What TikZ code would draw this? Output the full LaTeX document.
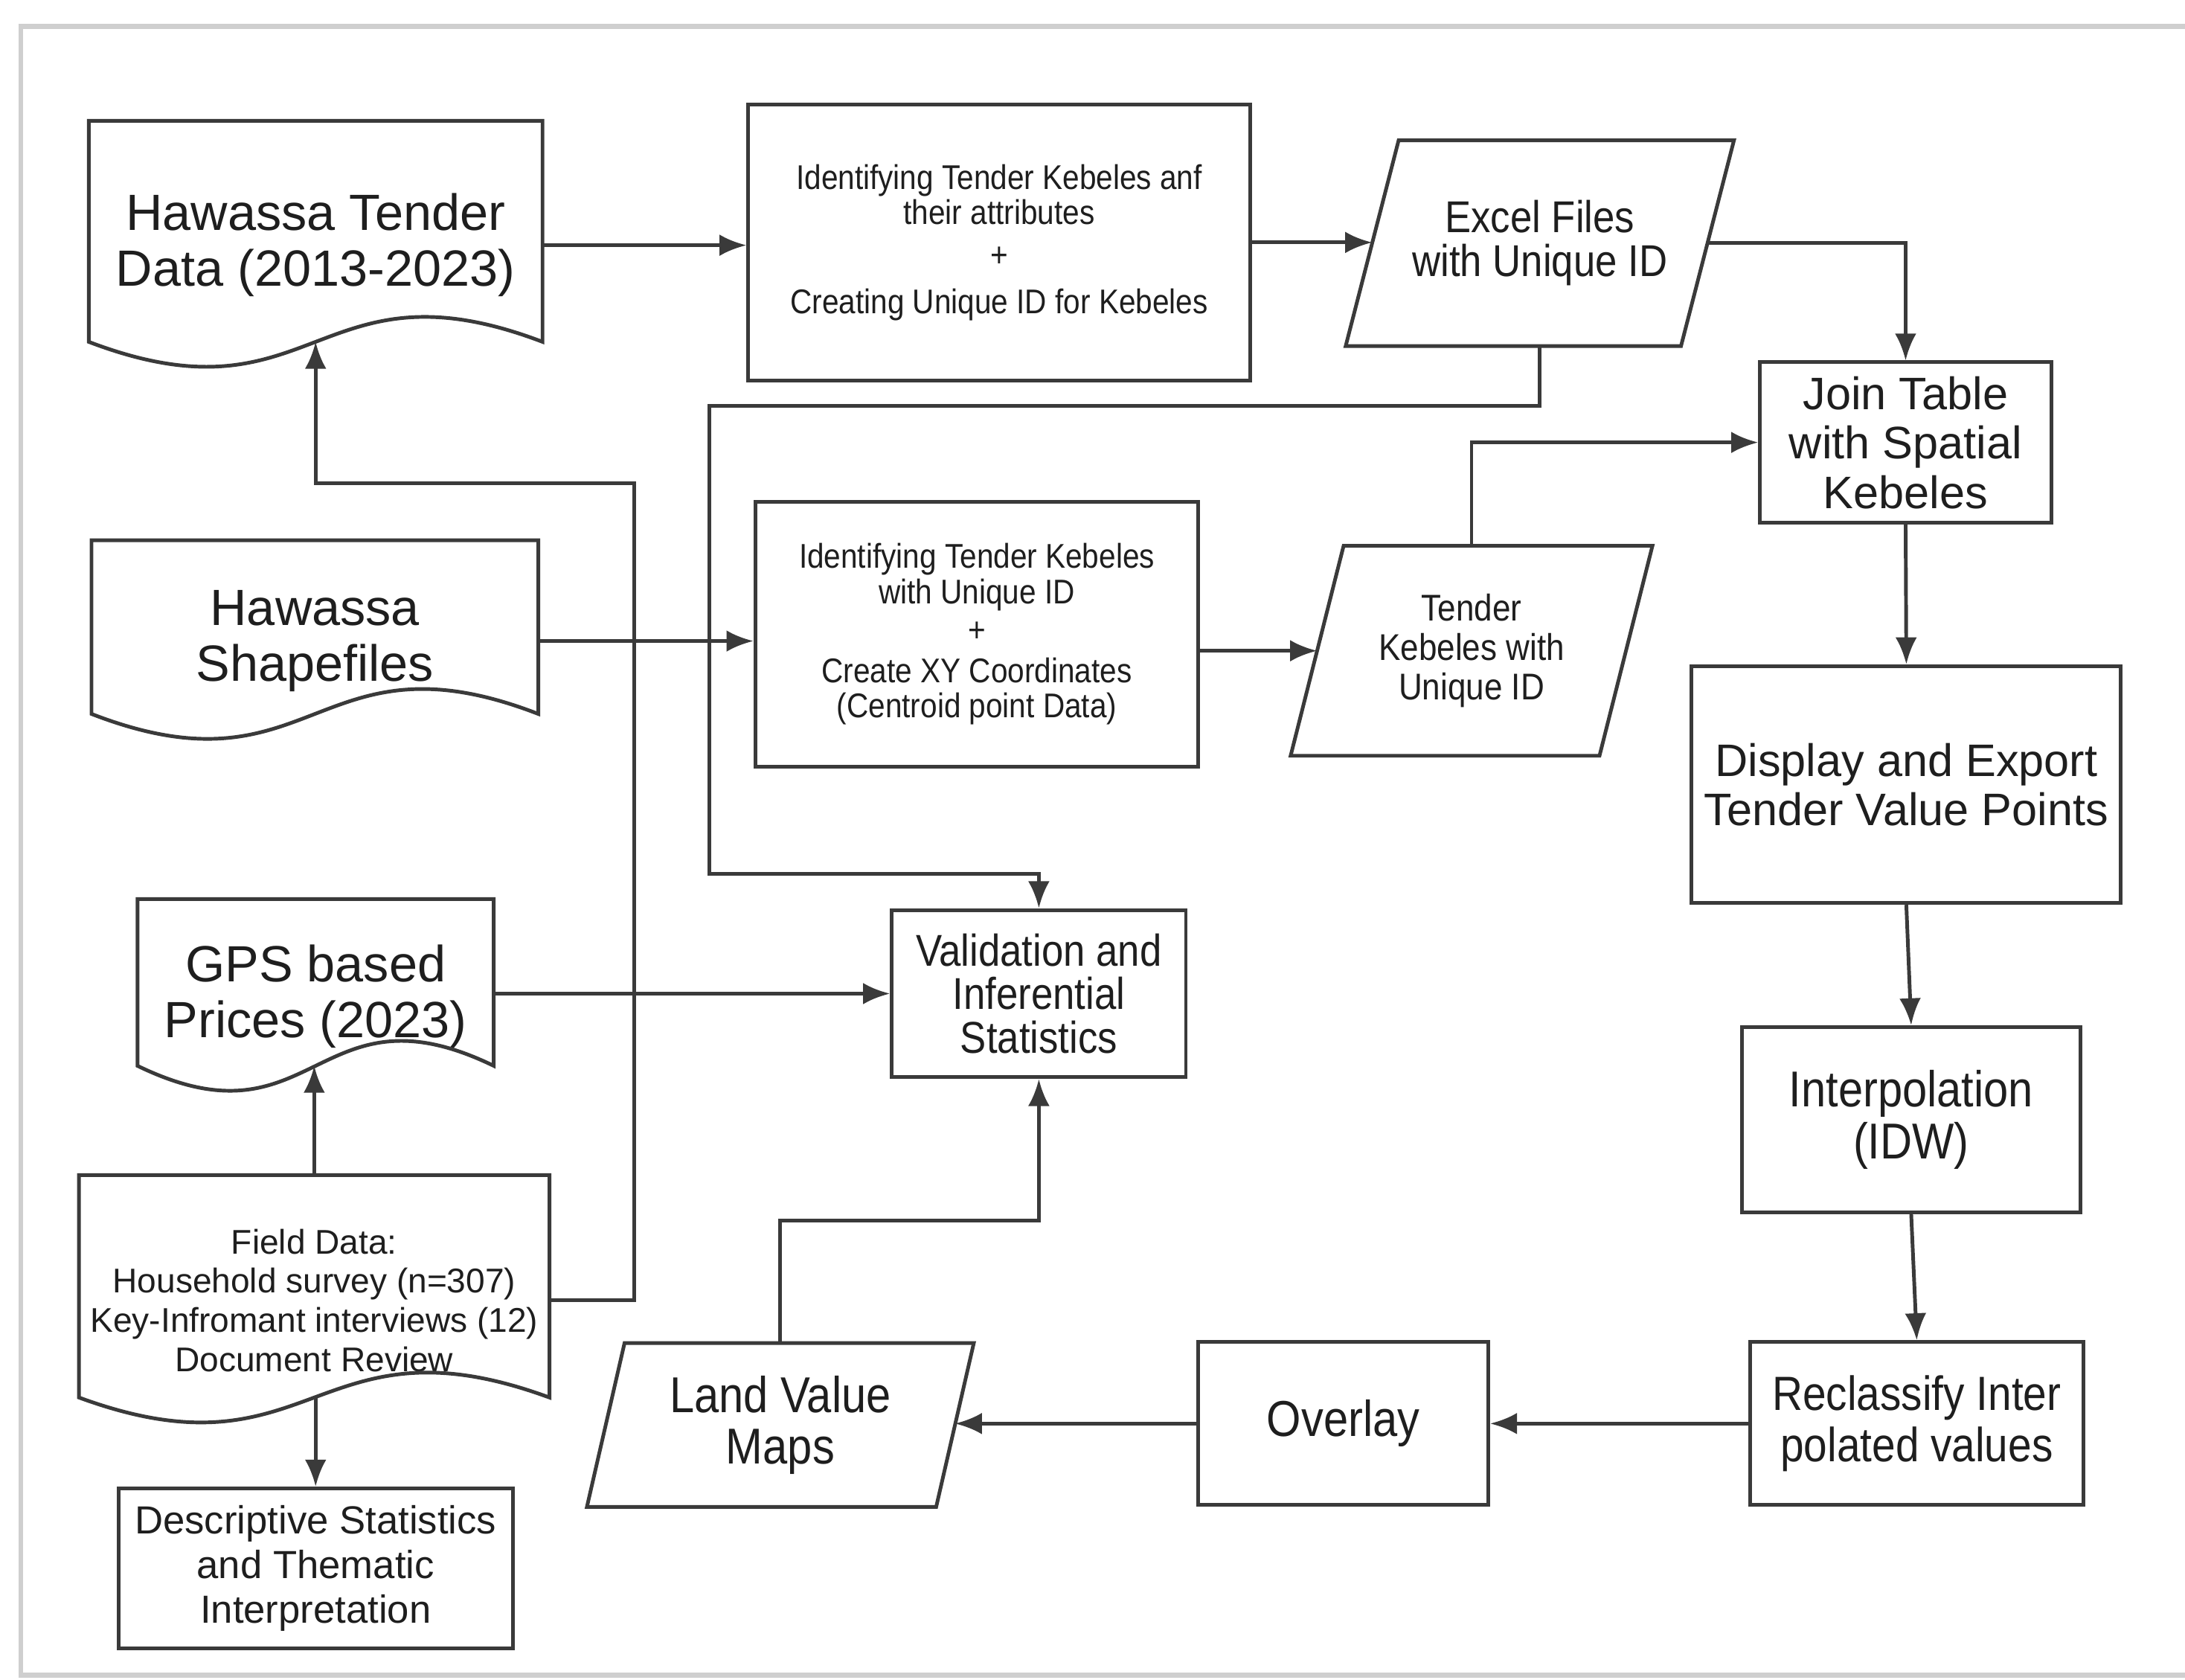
\documentclass[tikz,border=0pt]{standalone}
\usepackage{fontspec}
\setmainfont{Liberation Sans}
\newfontfamily\narrowfont[FakeStretch=0.88]{Liberation Sans}
\usetikzlibrary{positioning,calc,arrows.meta}

\definecolor{linegray}{HTML}{3A3A3A}
\definecolor{framegray}{HTML}{CFCFCF}
\definecolor{textgray}{HTML}{1E1E1E}

\newcommand{\bigtxt}{\fontsize{10.4}{11.4}\selectfont}
\newcommand{\jointxt}{\fontsize{9.3}{10.1}\selectfont}
\newcommand{\desctxt}{\fontsize{8}{9.1}\selectfont}
\newcommand{\fieldtxt}{\fontsize{7}{8}\selectfont}
\newcommand{\smalltxt}{\narrowfont\fontsize{7}{7.2}\selectfont}
\newcommand{\tendertxt}{\narrowfont\fontsize{7.6}{8}\selectfont}
\newcommand{\midtxt}{\narrowfont\fontsize{9.1}{8.9}\selectfont}
\newcommand{\steptxt}{\narrowfont\fontsize{10.3}{10.5}\selectfont}
\newcommand{\reclasstxt}{\narrowfont\fontsize{9.8}{10.5}\selectfont}

\begin{document}
\begin{tikzpicture}[>={Latex[length=5.5pt,width=4.4pt]}, line width=0.75pt]
	\tikzstyle{every node}=[align=center, inner sep=1pt, text=textgray]
	\tikzstyle{box}=[rectangle, draw=linegray]
	\tikzstyle{doc}=[rectangle]
	\tikzstyle{io}=[rectangle]
	\tikzstyle{flow}=[->, linegray]

	\useasboundingbox (0,0) rectangle (15.68,12.05);
	\draw[framegray, line width=1pt] (15.68,11.86) -- (0.15,11.86) -- (0.15,0.03) -- (15.68,0.03);

	% data sources
	\node[doc, minimum width=3.23cm, minimum height=1.76cm, font=\bigtxt] (tender) at (2.265,10.29) {Hawassa Tender\\Data (2013-2023)};
	\node[doc, minimum width=3.18cm, minimum height=1.42cm, font=\bigtxt] (shape) at (2.26,7.45) {Hawassa\\Shapefiles};
	\node[doc, minimum width=2.53cm, minimum height=1.37cm, font=\bigtxt] (gps) at (2.265,4.90) {GPS based\\Prices (2023)};
	\node[doc, minimum width=3.35cm, minimum height=1.77cm, font=\fieldtxt] (field) at (2.255,2.72) {Field Data:\\Household survey (n=307)\\Key-Infromant interviews (12)\\Document Review};

	% processing
	\node[box, minimum width=3.60cm, minimum height=1.98cm, font=\smalltxt] (ident) at (7.17,10.31) {Identifying Tender Kebeles anf\\their attributes\\[1.4pt]+\\[2.3pt]Creating Unique ID for Kebeles};
	\node[io, minimum width=2.38cm, minimum height=1.45cm, font=\midtxt] (excel) at (11.05,10.305) {Excel Files\\with Unique ID};
	\node[box, minimum width=2.09cm, minimum height=1.15cm, font=\jointxt] (join) at (13.675,8.875) {Join Table\\with Spatial\\Kebeles};
	\node[box, minimum width=3.18cm, minimum height=1.90cm, font=\smalltxt] (xy) at (7.01,7.50) {Identifying  Tender Kebeles\\with Unique ID\\[0.6pt]+\\[1.1pt]Create XY Coordinates\\(Centroid point Data)};
	\node[io, minimum width=2.19cm, minimum height=1.48cm, font=\tendertxt] (kebid) at (10.56,7.38) {Tender\\Kebeles with\\Unique ID};
	\node[box, minimum width=3.08cm, minimum height=1.70cm, font=\jointxt] (display) at (13.68,6.42) {Display and Export\\Tender Value Points};
	\node[box, minimum width=2.11cm, minimum height=1.20cm, font=\midtxt] (valid) at (7.455,4.92) {Validation and\\Inferential\\Statistics};
	\node[box, minimum width=2.43cm, minimum height=1.33cm, font=\steptxt] (interp) at (13.715,4.015) {Interpolation\\(IDW)};
	\node[io, minimum width=2.48cm, minimum height=1.15cm, font=\steptxt] (land) at (5.60,1.825) {Land Value\\Maps};
	\node[box, minimum width=2.08cm, minimum height=1.17cm, font=\steptxt] (overlay) at (9.64,1.835) {Overlay};
	\node[box, minimum width=2.39cm, minimum height=1.17cm, font=\reclasstxt] (reclass) at (13.755,1.835) {Reclassify Inter\\polated values};
	\node[box, minimum width=2.83cm, minimum height=1.15cm, font=\desctxt] (desc) at (2.265,0.795) {Descriptive Statistics\\and Thematic\\Interpretation};

	% document and data outlines
	\foreach \docname in {tender,shape,gps,field}
		\draw[linegray] ([yshift=2mm]\docname.south west) -- (\docname.north west) -- (\docname.north east) -- ([yshift=2mm]\docname.south east)
			.. controls ([yshift=8.2mm]\docname.south) and ([yshift=-4.2mm]\docname.south) .. ([yshift=2mm]\docname.south west) -- cycle;
	\foreach \ioname/\slant in {excel/0.19,kebid/0.19,land/0.135}
		\draw[linegray] ([xshift=\slant cm]\ioname.north west) -- ([xshift=\slant cm]\ioname.north east)
			-- ([xshift=-\slant cm]\ioname.south east) -- ([xshift=-\slant cm]\ioname.south west) -- cycle;

	\coordinate (loopback) at (4.55,8.58);
	\coordinate (excelbend) at (5.09,5.78);

	\draw[flow] (tender.east) -- (tender.east -| ident.west);
	\draw[flow] (ident.east) -- (ident.east -| excel.west);
	\draw[flow] (excel.east) -| (join.north);
	\draw[flow] (excel.south) -- ++(0,-0.43) -| (excelbend) -| (valid.north);
	\draw[flow] (shape.east) -- (shape.east -| xy.west);
	\draw[flow] (xy.east |- kebid) -- (kebid.west);
	\draw[flow] (kebid.north) |- (join.west);
	\draw[flow] (join.south) -- (display.north);
	\draw[flow] (display.south) -- (interp.north);
	\draw[flow] (interp.south) -- (reclass.north);
	\draw[flow] (reclass.west) -- (overlay.east);
	\draw[flow] (overlay.west) -- (overlay.west -| land.east);
	\draw[flow] (land.north) -- ++(0,0.88) -| (valid.south);
	\draw[flow] (gps.east |- valid) -- (valid.west);
	\draw[flow] (field.north) -- ([yshift=2mm]field.north |- gps.south);
	\draw[flow] ([yshift=2mm]desc.north |- field.south) -- (desc.north);
	\draw[flow] (field.east) -| (loopback) -| ([yshift=2mm]tender.south);

\end{tikzpicture}
\end{document}
